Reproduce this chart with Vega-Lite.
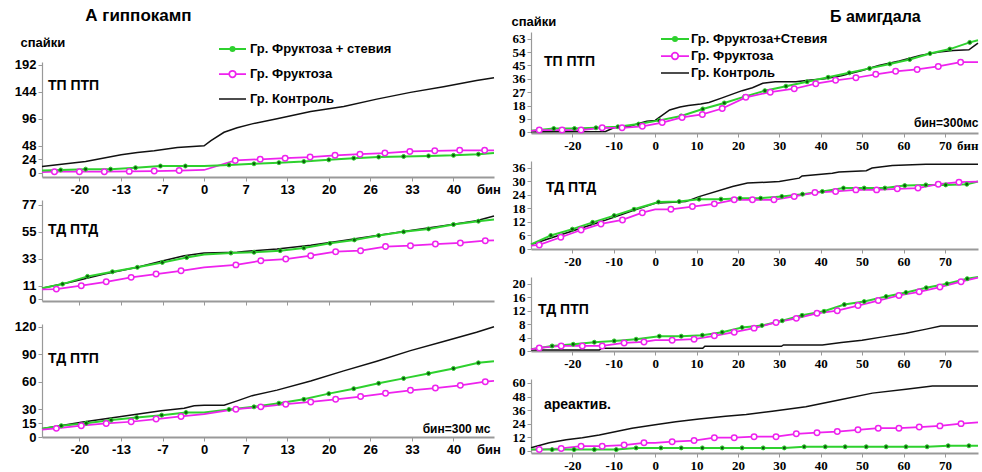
{
"$schema": "https://vega.github.io/schema/vega-lite/v6.json",
"padding": {"left": 14, "top": 7, "right": 0, "bottom": 0},
"config": {
  "view": {"stroke": null},
  "font": "Liberation Sans",
  "axis": {"grid": false, "domainColor": "#999999", "tickColor": "#999999", "labelColor": "#000000", "labelFont": "Liberation Sans", "labelFontSize": 13, "labelFontWeight": "bold", "tickSize": 4, "labelPadding": 2, "titleFont": "Liberation Sans", "titleFontSize": 13, "titleFontWeight": "bold", "titleColor": "#000000", "domainWidth": 1.2},
  "axisX": {"domainWidth": 2},
  "title": {"font": "Liberation Sans", "fontWeight": "bold", "color": "#000000"},
  "legend": {"labelFont": "Liberation Sans", "labelFontSize": 13, "labelFontWeight": "bold", "labelColor": "#000000", "padding": 0}
},
"datasets": {
"L1": [
{"g":"C","bin":-26,"v":11},{"g":"C","bin":-19,"v":20},{"g":"C","bin":-13.3,"v":32},{"g":"C","bin":-10.7,"v":36},{"g":"C","bin":-8,"v":39},{"g":"C","bin":-4.3,"v":45},{"g":"C","bin":0,"v":48},{"g":"C","bin":1.1,"v":57},{"g":"C","bin":3.2,"v":72},{"g":"C","bin":5.3,"v":80},{"g":"C","bin":7.7,"v":87},{"g":"C","bin":11.7,"v":96},{"g":"C","bin":17.1,"v":109},{"g":"C","bin":22.4,"v":118},{"g":"C","bin":27.7,"v":131},{"g":"C","bin":33.1,"v":143},{"g":"C","bin":38.4,"v":153},{"g":"C","bin":43.7,"v":164},{"g":"C","bin":46.5,"v":169},
{"g":"F","bin":-26,"v":1},{"g":"F","bin":-24,"v":2},{"g":"F","bin":-20,"v":2},{"g":"F","bin":-16,"v":2},{"g":"F","bin":-12,"v":2.5},{"g":"F","bin":-8,"v":3},{"g":"F","bin":-4,"v":4},{"g":"F","bin":0,"v":5},{"g":"F","bin":5,"v":22},{"g":"F","bin":9,"v":24},{"g":"F","bin":13,"v":26},{"g":"F","bin":17,"v":28},{"g":"F","bin":21,"v":31},{"g":"F","bin":25,"v":33},{"g":"F","bin":29,"v":35},{"g":"F","bin":33,"v":38},{"g":"F","bin":37,"v":39},{"g":"F","bin":41,"v":40},{"g":"F","bin":45,"v":40},{"g":"F","bin":46.5,"v":40},
{"g":"FS","bin":-26,"v":4},{"g":"FS","bin":-23,"v":5},{"g":"FS","bin":-19,"v":6.5},{"g":"FS","bin":-15,"v":6.5},{"g":"FS","bin":-11,"v":9},{"g":"FS","bin":-7,"v":12},{"g":"FS","bin":-3,"v":12},{"g":"FS","bin":0,"v":12},{"g":"FS","bin":4,"v":14},{"g":"FS","bin":8,"v":16},{"g":"FS","bin":12,"v":18},{"g":"FS","bin":16,"v":20},{"g":"FS","bin":20,"v":23},{"g":"FS","bin":24,"v":26},{"g":"FS","bin":28,"v":28},{"g":"FS","bin":32,"v":29},{"g":"FS","bin":36,"v":30},{"g":"FS","bin":40,"v":31},{"g":"FS","bin":44,"v":33},{"g":"FS","bin":46.5,"v":35}
],
"L2": [
{"g":"C","bin":-26,"v":9},{"g":"C","bin":-21.3,"v":14},{"g":"C","bin":-16,"v":20.5},{"g":"C","bin":-10.7,"v":26},{"g":"C","bin":-6.9,"v":31},{"g":"C","bin":-3.2,"v":35.5},{"g":"C","bin":0,"v":37.7},{"g":"C","bin":5.3,"v":38.3},{"g":"C","bin":6.4,"v":39},{"g":"C","bin":11.7,"v":41},{"g":"C","bin":17.1,"v":44},{"g":"C","bin":22.4,"v":48},{"g":"C","bin":27.7,"v":52},{"g":"C","bin":33.1,"v":56},{"g":"C","bin":38.4,"v":60},{"g":"C","bin":43.7,"v":64},{"g":"C","bin":46.5,"v":68},
{"g":"FS","bin":-26,"v":9},{"g":"FS","bin":-22.7,"v":12.3},{"g":"FS","bin":-18.7,"v":18.6},{"g":"FS","bin":-14.7,"v":22.4},{"g":"FS","bin":-10.7,"v":26},{"g":"FS","bin":-6.7,"v":30},{"g":"FS","bin":-2.8,"v":34},{"g":"FS","bin":0,"v":36.5},{"g":"FS","bin":4.3,"v":37.7},{"g":"FS","bin":8,"v":38.3},{"g":"FS","bin":12.2,"v":39.6},{"g":"FS","bin":16,"v":41.8},{"g":"FS","bin":20.2,"v":45.6},{"g":"FS","bin":24.1,"v":48.4},{"g":"FS","bin":28,"v":52},{"g":"FS","bin":32,"v":55},{"g":"FS","bin":36,"v":57.4},{"g":"FS","bin":40,"v":61},{"g":"FS","bin":44,"v":63.7},{"g":"FS","bin":46.5,"v":65},
{"g":"F","bin":-26,"v":8},{"g":"F","bin":-23.7,"v":8.2},{"g":"F","bin":-19.7,"v":11},{"g":"F","bin":-15.7,"v":14.2},{"g":"F","bin":-11.7,"v":17.8},{"g":"F","bin":-7.7,"v":20.5},{"g":"F","bin":-3.7,"v":23.2},{"g":"F","bin":0,"v":26},{"g":"F","bin":5.1,"v":28},{"g":"F","bin":9.1,"v":31.4},{"g":"F","bin":13.1,"v":32.8},{"g":"F","bin":17.1,"v":35.5},{"g":"F","bin":21.1,"v":38.8},{"g":"F","bin":25.1,"v":39.6},{"g":"F","bin":29.1,"v":43},{"g":"F","bin":33.1,"v":43.7},{"g":"F","bin":37.1,"v":45},{"g":"F","bin":41.1,"v":45.9},{"g":"F","bin":45.1,"v":47.8},{"g":"F","bin":46.5,"v":48}
],
"L3": [
{"g":"C","bin":-26,"v":9},{"g":"C","bin":-19.7,"v":16},{"g":"C","bin":-13.3,"v":22.4},{"g":"C","bin":-6.9,"v":28.5},{"g":"C","bin":-3.2,"v":31.4},{"g":"C","bin":-1.6,"v":34},{"g":"C","bin":0,"v":34.6},{"g":"C","bin":3.2,"v":34.6},{"g":"C","bin":5.3,"v":39.3},{"g":"C","bin":7.7,"v":45},{"g":"C","bin":11.7,"v":51},{"g":"C","bin":17.1,"v":61},{"g":"C","bin":22.4,"v":72},{"g":"C","bin":27.7,"v":82.5},{"g":"C","bin":33.1,"v":94},{"g":"C","bin":38.4,"v":104},{"g":"C","bin":43.7,"v":114},{"g":"C","bin":46.5,"v":120},
{"g":"FS","bin":-26,"v":9},{"g":"FS","bin":-22.9,"v":12.3},{"g":"FS","bin":-18.9,"v":15},{"g":"FS","bin":-14.9,"v":18.4},{"g":"FS","bin":-10.8,"v":21.3},{"g":"FS","bin":-6.8,"v":23.8},{"g":"FS","bin":-2.9,"v":26.7},{"g":"FS","bin":0,"v":26.7},{"g":"FS","bin":4,"v":30},{"g":"FS","bin":8,"v":32.8},{"g":"FS","bin":12,"v":36.8},{"g":"FS","bin":16,"v":41},{"g":"FS","bin":20,"v":47.2},{"g":"FS","bin":24,"v":52.6},{"g":"FS","bin":28,"v":58.4},{"g":"FS","bin":32,"v":63.8},{"g":"FS","bin":36,"v":69.2},{"g":"FS","bin":40,"v":74.6},{"g":"FS","bin":44,"v":80.7},{"g":"FS","bin":46.5,"v":82.5},
{"g":"F","bin":-26,"v":8},{"g":"F","bin":-23.7,"v":9.4},{"g":"F","bin":-19.7,"v":12.3},{"g":"F","bin":-15.7,"v":14.8},{"g":"F","bin":-11.7,"v":16.6},{"g":"F","bin":-7.7,"v":19.5},{"g":"F","bin":-3.7,"v":22.4},{"g":"F","bin":0,"v":24.9},{"g":"F","bin":5.1,"v":30.3},{"g":"F","bin":9.1,"v":32.8},{"g":"F","bin":13.1,"v":35.7},{"g":"F","bin":17.1,"v":38.2},{"g":"F","bin":21.1,"v":41},{"g":"F","bin":25.1,"v":44},{"g":"F","bin":29.1,"v":47.6},{"g":"F","bin":33.1,"v":50.8},{"g":"F","bin":37.1,"v":53.3},{"g":"F","bin":41.1,"v":56.2},{"g":"F","bin":45.1,"v":60.2},{"g":"F","bin":46.5,"v":61}
],
"R1": [
{"g":"C","bin":-30,"v":0.3},{"g":"C","bin":-12,"v":0.5},{"g":"C","bin":-10,"v":3},{"g":"C","bin":-6,"v":4},{"g":"C","bin":-4,"v":6},{"g":"C","bin":-2,"v":7.5},{"g":"C","bin":0,"v":8},{"g":"C","bin":1,"v":10},{"g":"C","bin":3.5,"v":15},{"g":"C","bin":6,"v":17},{"g":"C","bin":8,"v":18},{"g":"C","bin":11,"v":19},{"g":"C","bin":13,"v":20},{"g":"C","bin":16,"v":23},{"g":"C","bin":18,"v":25},{"g":"C","bin":21,"v":28},{"g":"C","bin":23.5,"v":30},{"g":"C","bin":26,"v":33},{"g":"C","bin":29,"v":34},{"g":"C","bin":34,"v":34},{"g":"C","bin":37,"v":35},{"g":"C","bin":41,"v":36},{"g":"C","bin":45,"v":38},{"g":"C","bin":50,"v":41.6},{"g":"C","bin":54,"v":45},{"g":"C","bin":59,"v":48},{"g":"C","bin":64,"v":51.7},{"g":"C","bin":68.6,"v":54},{"g":"C","bin":72,"v":55},{"g":"C","bin":75.8,"v":55.5},{"g":"C","bin":77,"v":58},{"g":"C","bin":78,"v":60},
{"g":"FS","bin":-30,"v":1},{"g":"FS","bin":-24.5,"v":2.5},{"g":"FS","bin":-19.5,"v":2.5},{"g":"FS","bin":-14.3,"v":3},{"g":"FS","bin":-9,"v":3.7},{"g":"FS","bin":-4,"v":5.5},{"g":"FS","bin":1,"v":8},{"g":"FS","bin":6.3,"v":11},{"g":"FS","bin":11.5,"v":15.7},{"g":"FS","bin":16.7,"v":19.7},{"g":"FS","bin":21.6,"v":24},{"g":"FS","bin":26.5,"v":28},{"g":"FS","bin":31.6,"v":31},{"g":"FS","bin":36.7,"v":34},{"g":"FS","bin":41.8,"v":37},{"g":"FS","bin":46.9,"v":40},{"g":"FS","bin":51.8,"v":43},{"g":"FS","bin":56.7,"v":46},{"g":"FS","bin":61.5,"v":49},{"g":"FS","bin":66.4,"v":53},{"g":"FS","bin":71.2,"v":56},{"g":"FS","bin":76,"v":60.5},{"g":"FS","bin":78,"v":62},
{"g":"F","bin":-30,"v":1},{"g":"F","bin":-28,"v":1.5},{"g":"F","bin":-22.5,"v":1.5},{"g":"F","bin":-17.9,"v":1.5},{"g":"F","bin":-12.8,"v":3},{"g":"F","bin":-8,"v":3},{"g":"F","bin":-3.1,"v":4},{"g":"F","bin":1.7,"v":6.5},{"g":"F","bin":6.5,"v":10},{"g":"F","bin":11.4,"v":12},{"g":"F","bin":16.2,"v":16},{"g":"F","bin":21.9,"v":23.5},{"g":"F","bin":27.8,"v":27},{"g":"F","bin":33.6,"v":29.3},{"g":"F","bin":38.8,"v":32.7},{"g":"F","bin":43.6,"v":35},{"g":"F","bin":48.5,"v":36.7},{"g":"F","bin":53.3,"v":39},{"g":"F","bin":58.1,"v":41},{"g":"F","bin":63.3,"v":42.3},{"g":"F","bin":68.4,"v":44.3},{"g":"F","bin":73.8,"v":47.2},{"g":"F","bin":78,"v":47.2}
],
"R2": [
{"g":"C","bin":-30,"v":2},{"g":"C","bin":-25,"v":5},{"g":"C","bin":-20,"v":8},{"g":"C","bin":-15,"v":11},{"g":"C","bin":-10,"v":14},{"g":"C","bin":-5,"v":17.3},{"g":"C","bin":0,"v":20.3},{"g":"C","bin":7.4,"v":21},{"g":"C","bin":10.6,"v":23.2},{"g":"C","bin":18.7,"v":27.7},{"g":"C","bin":22.3,"v":29.2},{"g":"C","bin":30,"v":29.9},{"g":"C","bin":34.8,"v":31.4},{"g":"C","bin":35.5,"v":32.4},{"g":"C","bin":42.8,"v":33.6},{"g":"C","bin":44.4,"v":34.1},{"g":"C","bin":51,"v":34.7},{"g":"C","bin":52.4,"v":35.9},{"g":"C","bin":57.3,"v":37},{"g":"C","bin":65.4,"v":37.6},{"g":"C","bin":78,"v":37.6},
{"g":"FS","bin":-30,"v":2},{"g":"FS","bin":-25.2,"v":6},{"g":"FS","bin":-20,"v":8.8},{"g":"FS","bin":-15.1,"v":11.8},{"g":"FS","bin":-9.9,"v":14.8},{"g":"FS","bin":-5.1,"v":17.6},{"g":"FS","bin":0.8,"v":20.8},{"g":"FS","bin":5.8,"v":21},{"g":"FS","bin":10.6,"v":22.1},{"g":"FS","bin":15.9,"v":22.1},{"g":"FS","bin":20.5,"v":22.5},{"g":"FS","bin":25.5,"v":22.5},{"g":"FS","bin":30.6,"v":23.3},{"g":"FS","bin":35.6,"v":24.3},{"g":"FS","bin":40.4,"v":25.5},{"g":"FS","bin":45.5,"v":27},{"g":"FS","bin":50.5,"v":27},{"g":"FS","bin":55.5,"v":27},{"g":"FS","bin":60.3,"v":28.1},{"g":"FS","bin":65.4,"v":28.4},{"g":"FS","bin":70.2,"v":28.4},{"g":"FS","bin":75.3,"v":28.7},{"g":"FS","bin":78,"v":29.9},
{"g":"F","bin":-30,"v":1.5},{"g":"F","bin":-28,"v":1.8},{"g":"F","bin":-22.8,"v":5.2},{"g":"F","bin":-17.9,"v":8.4},{"g":"F","bin":-13.1,"v":11.1},{"g":"F","bin":-7.9,"v":12.9},{"g":"F","bin":-3.1,"v":16.1},{"g":"F","bin":0,"v":17.6},{"g":"F","bin":3.8,"v":17.6},{"g":"F","bin":9,"v":18.8},{"g":"F","bin":14.3,"v":20},{"g":"F","bin":19.1,"v":21.8},{"g":"F","bin":23.5,"v":21.8},{"g":"F","bin":28.7,"v":21.8},{"g":"F","bin":33.6,"v":23.3},{"g":"F","bin":38.6,"v":25},{"g":"F","bin":43.6,"v":25.5},{"g":"F","bin":48.5,"v":26.2},{"g":"F","bin":53.5,"v":26.2},{"g":"F","bin":58.5,"v":26.7},{"g":"F","bin":63.5,"v":27},{"g":"F","bin":68.4,"v":28.7},{"g":"F","bin":73.4,"v":29.6},{"g":"F","bin":78,"v":29.9}
],
"R3": [
{"g":"C","bin":-30,"v":0.3},{"g":"C","bin":-13.5,"v":0.3},{"g":"C","bin":-13,"v":0.8},{"g":"C","bin":11.5,"v":0.8},{"g":"C","bin":12,"v":1.4},{"g":"C","bin":30.5,"v":1.4},{"g":"C","bin":31,"v":1.8},{"g":"C","bin":40.4,"v":1.8},{"g":"C","bin":45,"v":2.5},{"g":"C","bin":50,"v":3.2},{"g":"C","bin":55,"v":4.2},{"g":"C","bin":60.6,"v":5.3},{"g":"C","bin":65.5,"v":6.5},{"g":"C","bin":69,"v":7.4},{"g":"C","bin":78,"v":7.4},
{"g":"FS","bin":-30,"v":0.5},{"g":"FS","bin":-24.9,"v":1.5},{"g":"FS","bin":-19.8,"v":2},{"g":"FS","bin":-14.7,"v":2.6},{"g":"FS","bin":-9.9,"v":3},{"g":"FS","bin":-4.6,"v":3.5},{"g":"FS","bin":1,"v":4.4},{"g":"FS","bin":6.3,"v":4.4},{"g":"FS","bin":11.4,"v":4.7},{"g":"FS","bin":16.2,"v":5.6},{"g":"FS","bin":21,"v":7},{"g":"FS","bin":25.8,"v":7.6},{"g":"FS","bin":30.7,"v":9},{"g":"FS","bin":35.5,"v":10.6},{"g":"FS","bin":40.8,"v":11.8},{"g":"FS","bin":45.7,"v":13.8},{"g":"FS","bin":50.5,"v":14.7},{"g":"FS","bin":55.8,"v":16.2},{"g":"FS","bin":60.6,"v":17.4},{"g":"FS","bin":65.5,"v":18.8},{"g":"FS","bin":70.5,"v":20},{"g":"FS","bin":75.4,"v":21.5},{"g":"FS","bin":78,"v":22},
{"g":"F","bin":-30,"v":0.5},{"g":"F","bin":-28,"v":0.9},{"g":"F","bin":-22.7,"v":1.5},{"g":"F","bin":-17.6,"v":1.5},{"g":"F","bin":-12.8,"v":1.5},{"g":"F","bin":-7.5,"v":2.4},{"g":"F","bin":-2.7,"v":2.7},{"g":"F","bin":0,"v":3.2},{"g":"F","bin":4.1,"v":3.2},{"g":"F","bin":9.4,"v":3.5},{"g":"F","bin":14.3,"v":4.5},{"g":"F","bin":19.1,"v":5.6},{"g":"F","bin":23.9,"v":6.8},{"g":"F","bin":29.2,"v":8.5},{"g":"F","bin":34.1,"v":9.7},{"g":"F","bin":39.1,"v":11.2},{"g":"F","bin":44,"v":12},{"g":"F","bin":49,"v":13.5},{"g":"F","bin":53.9,"v":15},{"g":"F","bin":58.9,"v":16.5},{"g":"F","bin":63.8,"v":17.6},{"g":"F","bin":68.8,"v":19},{"g":"F","bin":73.9,"v":20.6},{"g":"F","bin":78,"v":21.8}
],
"R4": [
{"g":"C","bin":-30,"v":2.6},{"g":"C","bin":-25.6,"v":7},{"g":"C","bin":-21.5,"v":9.7},{"g":"C","bin":-17.6,"v":11.5},{"g":"C","bin":-13.5,"v":14},{"g":"C","bin":-9.4,"v":17},{"g":"C","bin":-5.6,"v":20},{"g":"C","bin":0,"v":23},{"g":"C","bin":5,"v":25.6},{"g":"C","bin":10.6,"v":28},{"g":"C","bin":17,"v":30.5},{"g":"C","bin":22,"v":32},{"g":"C","bin":28.3,"v":35},{"g":"C","bin":36.4,"v":39},{"g":"C","bin":44.4,"v":45},{"g":"C","bin":52.5,"v":51},{"g":"C","bin":60.6,"v":54.5},{"g":"C","bin":67,"v":57.4},{"g":"C","bin":78,"v":57.4},
{"g":"F","bin":-30,"v":1},{"g":"F","bin":-28,"v":1},{"g":"F","bin":-22.7,"v":2},{"g":"F","bin":-17.9,"v":4},{"g":"F","bin":-12.8,"v":4},{"g":"F","bin":-7.5,"v":5},{"g":"F","bin":-2.7,"v":7},{"g":"F","bin":0,"v":7},{"g":"F","bin":4.1,"v":8},{"g":"F","bin":9.4,"v":9},{"g":"F","bin":14.3,"v":11.5},{"g":"F","bin":19.1,"v":11.5},{"g":"F","bin":23.9,"v":12.4},{"g":"F","bin":29.2,"v":12.4},{"g":"F","bin":34.1,"v":15},{"g":"F","bin":39.1,"v":16},{"g":"F","bin":44,"v":17},{"g":"F","bin":49,"v":18.5},{"g":"F","bin":53.9,"v":20},{"g":"F","bin":58.9,"v":20},{"g":"F","bin":63.8,"v":21},{"g":"F","bin":68.8,"v":22},{"g":"F","bin":73.9,"v":24},{"g":"F","bin":78,"v":25},
{"g":"FS","bin":-30,"v":1},{"g":"FS","bin":-24.9,"v":1},{"g":"FS","bin":-19.6,"v":1},{"g":"FS","bin":-14.7,"v":1},{"g":"FS","bin":-9.4,"v":1},{"g":"FS","bin":-4.6,"v":2.5},{"g":"FS","bin":1.4,"v":2.5},{"g":"FS","bin":6.3,"v":2.5},{"g":"FS","bin":11.4,"v":2.5},{"g":"FS","bin":16.2,"v":2.5},{"g":"FS","bin":21,"v":2.5},{"g":"FS","bin":26.1,"v":2.5},{"g":"FS","bin":31.2,"v":2.5},{"g":"FS","bin":36,"v":3.5},{"g":"FS","bin":41.1,"v":3.5},{"g":"FS","bin":45.9,"v":3.5},{"g":"FS","bin":51,"v":3.5},{"g":"FS","bin":55.8,"v":3.5},{"g":"FS","bin":60.6,"v":3.5},{"g":"FS","bin":65.7,"v":3.5},{"g":"FS","bin":70.8,"v":4.4},{"g":"FS","bin":75.8,"v":4.4},{"g":"FS","bin":78,"v":4.5}
]
},
"resolve": {"scale": {"color": "independent", "strokeWidth": "independent"}, "legend": {"color": "independent"}},
"spacing": 10,
"hconcat": [
{
 "title": {"text": "А гиппокамп", "anchor": "start", "frame": "bounds", "dx": 71, "fontSize": 17, "offset": 7},
 "bounds": "flush",
 "spacing": 23,
 "resolve": {"scale": {"color": "independent", "strokeWidth": "independent"}, "legend": {"color": "independent"}},
 "vconcat": [
  {"width": 452, "height": 7, "data": {"values": []}, "mark": {"type": "point", "opacity": 0}, "encoding": {}},
  {
   "width": 452, "height": 115,
   "data": {"name": "L1"},
   "title": {"text": "ТП ПТП", "anchor": "start", "frame": "group", "dx": 6, "dy": 64, "fontSize": 14, "offset": 0, "baseline": "middle"},
   "encoding": {
     "x": {"field": "bin", "type": "quantitative", "scale": {"domain": [-26, 46.5], "nice": false, "zero": false}, "axis": {"values": [-20,-13.333,-6.667,0,6.667,13.333,20,26.667,33.333,40,45.6], "labelExpr": "datum.value > 45 ? 'бин' : (datum.value > 26 && datum.value < 27 ? '26' : '' + round(datum.value))", "tickOpacity": {"condition": {"test": "datum.value > 45", "value": 0}, "value": 1}, "labelOverlap": false, "labelFlush": false, "title": null}},
     "y": {"field": "v", "type": "quantitative", "scale": {"domain": [-7.5, 197], "nice": false, "zero": false}, "axis": {"values": [0,24,48,96,144,192], "title": "спайки", "titleAngle": 0, "titleAlign": "left", "titleBaseline": "middle", "titleX": -22, "titleY": -20}}
   },
   "layer": [
    {"mark": {"type": "line"}, "encoding": {
      "color": {"field": "g", "type": "nominal", "scale": {"domain": ["FS","F","C"], "range": ["#2ed12e","#ee22ee","#111111"]},
        "legend": {"orient": "none", "legendX": 177, "legendY": -26.5, "title": null, "symbolType": "M-1.08,0H1.08", "symbolSize": 625, "symbolStrokeWidth": 1.6, "rowPadding": 4, "labelOffset": 4, "labelExpr": "datum.value == 'FS' ? 'Гр. Фруктоза + стевия' : datum.value == 'F' ? 'Гр. Фруктоза' : 'Гр. Контроль'",
          "encode": {"symbols": {"update": {"shape": {"signal": "datum.value == 'FS' ? 'M-1.08,0H1.08M-0.16,0A0.16,0.16,0,1,1,0.16,0A0.16,0.16,0,1,1,-0.16,0Z' : datum.value == 'F' ? 'M-1.08,0H-0.26M0.26,0H1.08M-0.26,0A0.26,0.26,0,1,1,0.26,0A0.26,0.26,0,1,1,-0.26,0Z' : 'M-1.08,0H1.08'"}, "fill": {"signal": "datum.value == 'FS' ? '#0b5d0b' : datum.value == 'F' ? '#ffffff' : 'transparent'"}}}}}},
      "strokeWidth": {"field": "g", "type": "nominal", "scale": {"domain": ["FS","F","C"], "range": [2,1.5,1.8]}, "legend": null}}},
    {"transform": [{"filter": "datum.g == 'FS' && datum.bin > -26 && datum.bin < 46.5 && datum.bin != 0"}], "mark": {"type": "point", "shape": "circle", "filled": true, "fill": "#0b5d0b", "stroke": "#2ed12e", "strokeWidth": 1, "size": 16, "opacity": 1}},
    {"transform": [{"filter": "datum.g == 'F' && datum.bin > -26 && datum.bin < 46.5 && datum.bin != 0"}], "mark": {"type": "point", "shape": "circle", "filled": true, "fill": "#ffffff", "stroke": "#ee22ee", "strokeWidth": 1.5, "size": 30, "opacity": 1}},
    {"data": {"values": [{"stim": 0}]}, "mark": {"type": "rule", "color": "#f07070", "strokeWidth": 1.3}, "encoding": {"x": {"field": "stim", "type": "quantitative"}, "y": {"datum": 218}, "y2": {"datum": -7.5}}}
   ]
  },
  {
   "width": 452, "height": 101,
   "data": {"name": "L2"},
   "title": {"text": "ТД ПТД", "anchor": "start", "frame": "group", "dx": 6, "dy": 45, "fontSize": 14, "offset": 0, "baseline": "middle"},
   "encoding": {
     "x": {"field": "bin", "type": "quantitative", "scale": {"domain": [-26, 46.5], "nice": false, "zero": false}, "axis": {"values": [-20,-13.333,-6.667,0,6.667,13.333,20,26.667,33.333,40], "labels": false, "title": null}},
     "y": {"field": "v", "type": "quantitative", "scale": {"domain": [-1.5, 81], "nice": false, "zero": false}, "axis": {"values": [0,11,33,55,77], "title": null}}
   },
   "layer": [
    {"mark": {"type": "line"}, "encoding": {"color": {"field": "g", "type": "nominal", "scale": {"domain": ["FS","F","C"], "range": ["#2ed12e","#ee22ee","#111111"]}, "legend": null}, "strokeWidth": {"field": "g", "type": "nominal", "scale": {"domain": ["FS","F","C"], "range": [2,1.5,1.8]}, "legend": null}}},
    {"transform": [{"filter": "datum.g == 'FS' && datum.bin > -26 && datum.bin < 46.5 && datum.bin != 0"}], "mark": {"type": "point", "shape": "circle", "filled": true, "fill": "#0b5d0b", "stroke": "#2ed12e", "strokeWidth": 1, "size": 16, "opacity": 1}},
    {"transform": [{"filter": "datum.g == 'F' && datum.bin > -26 && datum.bin < 46.5 && datum.bin != 0"}], "mark": {"type": "point", "shape": "circle", "filled": true, "fill": "#ffffff", "stroke": "#ee22ee", "strokeWidth": 1.5, "size": 30, "opacity": 1}},
    {"data": {"values": [{"stim": 0}]}, "mark": {"type": "rule", "color": "#f07070", "strokeWidth": 1.3}, "encoding": {"x": {"field": "stim", "type": "quantitative"}, "y": {"datum": 81}, "y2": {"datum": -1.5}}}
   ]
  },
  {
   "width": 452, "height": 113,
   "data": {"name": "L3"},
   "title": {"text": "ТД ПТП", "anchor": "start", "frame": "group", "dx": 6, "dy": 52, "fontSize": 14, "offset": 0, "baseline": "middle"},
   "encoding": {
     "x": {"field": "bin", "type": "quantitative", "scale": {"domain": [-26, 46.5], "nice": false, "zero": false}, "axis": {"values": [-20,-13.333,-6.667,0,6.667,13.333,20,26.667,33.333,40,45.6], "labelExpr": "datum.value > 45 ? 'бин' : (datum.value > 26 && datum.value < 27 ? '26' : '' + round(datum.value))", "tickOpacity": {"condition": {"test": "datum.value > 45", "value": 0}, "value": 1}, "labelOverlap": false, "labelFlush": false, "title": "бин=300 мс", "titleX": 448, "titleY": -9, "titleAlign": "right", "titleBaseline": "middle", "titleFontSize": 12}},
     "y": {"field": "v", "type": "quantitative", "scale": {"domain": [0, 123], "nice": false, "zero": false}, "axis": {"values": [0,15,30,60,90,120], "title": null}}
   },
   "layer": [
    {"mark": {"type": "line"}, "encoding": {"color": {"field": "g", "type": "nominal", "scale": {"domain": ["FS","F","C"], "range": ["#2ed12e","#ee22ee","#111111"]}, "legend": null}, "strokeWidth": {"field": "g", "type": "nominal", "scale": {"domain": ["FS","F","C"], "range": [2,1.5,1.8]}, "legend": null}}},
    {"transform": [{"filter": "datum.g == 'FS' && datum.bin > -26 && datum.bin < 46.5 && datum.bin != 0"}], "mark": {"type": "point", "shape": "circle", "filled": true, "fill": "#0b5d0b", "stroke": "#2ed12e", "strokeWidth": 1, "size": 16, "opacity": 1}},
    {"transform": [{"filter": "datum.g == 'F' && datum.bin > -26 && datum.bin < 46.5 && datum.bin != 0"}], "mark": {"type": "point", "shape": "circle", "filled": true, "fill": "#ffffff", "stroke": "#ee22ee", "strokeWidth": 1.5, "size": 30, "opacity": 1}},
    {"data": {"values": [{"stim": 0}]}, "mark": {"type": "rule", "color": "#f07070", "strokeWidth": 1.3}, "encoding": {"x": {"field": "stim", "type": "quantitative"}, "y": {"datum": 123}, "y2": {"datum": 0}}}
   ]
  }
 ]
},
{
 "title": {"text": "Б амигдала", "anchor": "start", "frame": "bounds", "dx": 319, "fontSize": 16, "offset": -10},
 "bounds": "flush",
 "spacing": 28,
 "resolve": {"scale": {"color": "independent", "strokeWidth": "independent"}, "legend": {"color": "independent"}},
 "vconcat": [
  {
   "width": 447, "height": 101,
   "data": {"name": "R1"},
   "title": {"text": "ТП ПТП", "anchor": "start", "frame": "group", "dx": 13, "dy": 61, "fontSize": 14, "offset": 0, "baseline": "middle"},
   "encoding": {
     "x": {"field": "bin", "type": "quantitative", "scale": {"domain": [-30, 78], "nice": false, "zero": false}, "axis": {"values": [-20,-10,0,10,20,30,40,50,60,70,78], "labelExpr": "datum.value > 75 ? 'бин' : '' + datum.value", "labelAlign": {"condition": {"test": "datum.value > 75", "value": "right"}, "value": "center"}, "tickOpacity": {"condition": {"test": "datum.value > 75", "value": 0}, "value": 1}, "labelFont": "Liberation Serif", "labelOverlap": false, "labelFlush": false, "title": "бин=300мс", "titleX": 447, "titleY": -11, "titleAlign": "right", "titleBaseline": "middle", "titleFontSize": 12}},
     "y": {"field": "v", "type": "quantitative", "scale": {"domain": [-0.5, 67.5], "nice": false, "zero": false}, "axis": {"values": [0,9,18,27,36,45,54,63], "labelFont": "Liberation Serif", "title": "спайки", "titleAngle": 0, "titleAlign": "left", "titleBaseline": "middle", "titleX": -20, "titleY": -11}}
   },
   "layer": [
    {"mark": {"type": "line"}, "encoding": {
      "color": {"field": "g", "type": "nominal", "scale": {"domain": ["FS","F","C"], "range": ["#2ed12e","#ee22ee","#111111"]},
        "legend": {"orient": "none", "legendX": 136, "legendY": -1, "title": null, "symbolType": "M-2,0H2", "symbolSize": 196, "symbolStrokeWidth": 1.6, "rowPadding": 2, "labelOffset": 8, "labelExpr": "datum.value == 'FS' ? 'Гр. Фруктоза+Стевия' : datum.value == 'F' ? 'Гр. Фруктоза' : 'Гр. Контроль'",
          "encode": {"symbols": {"update": {"shape": {"signal": "datum.value == 'FS' ? 'M-2,0H2M-0.29,0A0.29,0.29,0,1,1,0.29,0A0.29,0.29,0,1,1,-0.29,0Z' : datum.value == 'F' ? 'M-2,0H-0.47M0.47,0H2M-0.47,0A0.47,0.47,0,1,1,0.47,0A0.47,0.47,0,1,1,-0.47,0Z' : 'M-2,0H2'"}, "fill": {"signal": "datum.value == 'FS' ? '#0b5d0b' : datum.value == 'F' ? '#ffffff' : 'transparent'"}}}}}},
      "strokeWidth": {"field": "g", "type": "nominal", "scale": {"domain": ["FS","F","C"], "range": [2,1.5,1.8]}, "legend": null}}},
    {"transform": [{"filter": "datum.g == 'FS' && datum.bin > -30 && datum.bin < 78 && datum.bin != 0"}], "mark": {"type": "point", "shape": "circle", "filled": true, "fill": "#0b5d0b", "stroke": "#2ed12e", "strokeWidth": 1, "size": 16, "opacity": 1}},
    {"transform": [{"filter": "datum.g == 'F' && datum.bin > -30 && datum.bin < 78 && datum.bin != 0"}], "mark": {"type": "point", "shape": "circle", "filled": true, "fill": "#ffffff", "stroke": "#ee22ee", "strokeWidth": 1.5, "size": 30, "opacity": 1}},
    {"data": {"values": [{"stim": 0}]}, "mark": {"type": "rule", "color": "#f07070", "strokeWidth": 1.3}, "encoding": {"x": {"field": "stim", "type": "quantitative"}, "y": {"datum": 54}, "y2": {"datum": -0.5}}}
   ]
  },
  {
   "width": 447, "height": 88,
   "data": {"name": "R2"},
   "title": {"text": "ТД ПТД", "anchor": "start", "frame": "group", "dx": 15, "dy": 41, "fontSize": 14, "offset": 0, "baseline": "middle"},
   "encoding": {
     "x": {"field": "bin", "type": "quantitative", "scale": {"domain": [-30, 78], "nice": false, "zero": false}, "axis": {"values": [-20,-10,0,10,20,30,40,50,60,70], "labelExpr": "'' + datum.value", "labelFont": "Liberation Serif", "labelOverlap": false, "labelFlush": false, "title": null}},
     "y": {"field": "v", "type": "quantitative", "scale": {"domain": [0, 39], "nice": false, "zero": false}, "axis": {"values": [0,6,12,18,24,30,36], "labelFont": "Liberation Serif", "title": null}}
   },
   "layer": [
    {"mark": {"type": "line"}, "encoding": {"color": {"field": "g", "type": "nominal", "scale": {"domain": ["FS","F","C"], "range": ["#2ed12e","#ee22ee","#111111"]}, "legend": null}, "strokeWidth": {"field": "g", "type": "nominal", "scale": {"domain": ["FS","F","C"], "range": [2,1.5,1.8]}, "legend": null}}},
    {"transform": [{"filter": "datum.g == 'FS' && datum.bin > -30 && datum.bin < 78 && datum.bin != 0"}], "mark": {"type": "point", "shape": "circle", "filled": true, "fill": "#0b5d0b", "stroke": "#2ed12e", "strokeWidth": 1, "size": 16, "opacity": 1}},
    {"transform": [{"filter": "datum.g == 'F' && datum.bin > -30 && datum.bin < 78 && datum.bin != 0"}], "mark": {"type": "point", "shape": "circle", "filled": true, "fill": "#ffffff", "stroke": "#ee22ee", "strokeWidth": 1.5, "size": 30, "opacity": 1}},
    {"data": {"values": [{"stim": 0}]}, "mark": {"type": "rule", "color": "#f07070", "strokeWidth": 1.3}, "encoding": {"x": {"field": "stim", "type": "quantitative"}, "y": {"datum": 39}, "y2": {"datum": 0}}}
   ]
  },
  {
   "width": 447, "height": 74,
   "data": {"name": "R3"},
   "title": {"text": "ТД ПТП", "anchor": "start", "frame": "group", "dx": 7, "dy": 51, "fontSize": 14, "offset": 0, "baseline": "middle"},
   "encoding": {
     "x": {"field": "bin", "type": "quantitative", "scale": {"domain": [-30, 78], "nice": false, "zero": false}, "axis": {"values": [-20,-10,0,10,20,30,40,50,60,70], "labelExpr": "'' + datum.value", "labelFont": "Liberation Serif", "labelOverlap": false, "labelFlush": false, "title": null}},
     "y": {"field": "v", "type": "quantitative", "scale": {"domain": [0, 22], "nice": false, "zero": false}, "axis": {"values": [0,4,8,12,16,20], "labelFont": "Liberation Serif", "title": null}}
   },
   "layer": [
    {"mark": {"type": "line"}, "encoding": {"color": {"field": "g", "type": "nominal", "scale": {"domain": ["FS","F","C"], "range": ["#2ed12e","#ee22ee","#111111"]}, "legend": null}, "strokeWidth": {"field": "g", "type": "nominal", "scale": {"domain": ["FS","F","C"], "range": [2,1.5,1.8]}, "legend": null}}},
    {"transform": [{"filter": "datum.g == 'FS' && datum.bin > -30 && datum.bin < 78 && datum.bin != 0"}], "mark": {"type": "point", "shape": "circle", "filled": true, "fill": "#0b5d0b", "stroke": "#2ed12e", "strokeWidth": 1, "size": 16, "opacity": 1}},
    {"transform": [{"filter": "datum.g == 'F' && datum.bin > -30 && datum.bin < 78 && datum.bin != 0"}], "mark": {"type": "point", "shape": "circle", "filled": true, "fill": "#ffffff", "stroke": "#ee22ee", "strokeWidth": 1.5, "size": 30, "opacity": 1}},
    {"data": {"values": [{"stim": 0}]}, "mark": {"type": "rule", "color": "#f07070", "strokeWidth": 1.3}, "encoding": {"x": {"field": "stim", "type": "quantitative"}, "y": {"datum": 22}, "y2": {"datum": 0}}}
   ]
  },
  {
   "width": 447, "height": 74,
   "data": {"name": "R4"},
   "title": {"text": "ареактив.", "anchor": "start", "frame": "group", "dx": 13, "dy": 42, "fontSize": 14, "offset": 0, "baseline": "middle"},
   "encoding": {
     "x": {"field": "bin", "type": "quantitative", "scale": {"domain": [-30, 78], "nice": false, "zero": false}, "axis": {"values": [-20,-10,0,10,20,30,40,50,60,70], "labelExpr": "'' + datum.value", "labelFont": "Liberation Serif", "labelOverlap": false, "labelFlush": false, "title": null}},
     "y": {"field": "v", "type": "quantitative", "scale": {"domain": [-2, 63.5], "nice": false, "zero": false}, "axis": {"values": [0,12,24,36,48,60], "labelFont": "Liberation Serif", "title": null}}
   },
   "layer": [
    {"mark": {"type": "line"}, "encoding": {"color": {"field": "g", "type": "nominal", "scale": {"domain": ["FS","F","C"], "range": ["#2ed12e","#ee22ee","#111111"]}, "legend": null}, "strokeWidth": {"field": "g", "type": "nominal", "scale": {"domain": ["FS","F","C"], "range": [2,1.5,1.8]}, "legend": null}}},
    {"transform": [{"filter": "datum.g == 'FS' && datum.bin > -30 && datum.bin < 78 && datum.bin != 0"}], "mark": {"type": "point", "shape": "circle", "filled": true, "fill": "#0b5d0b", "stroke": "#2ed12e", "strokeWidth": 1, "size": 16, "opacity": 1}},
    {"transform": [{"filter": "datum.g == 'F' && datum.bin > -30 && datum.bin < 78 && datum.bin != 0"}], "mark": {"type": "point", "shape": "circle", "filled": true, "fill": "#ffffff", "stroke": "#ee22ee", "strokeWidth": 1.5, "size": 30, "opacity": 1}},
    {"data": {"values": [{"stim": 0}]}, "mark": {"type": "rule", "color": "#f07070", "strokeWidth": 1.3}, "encoding": {"x": {"field": "stim", "type": "quantitative"}, "y": {"datum": 55.6}, "y2": {"datum": -2}}}
   ]
  }
 ]
}
]
}
